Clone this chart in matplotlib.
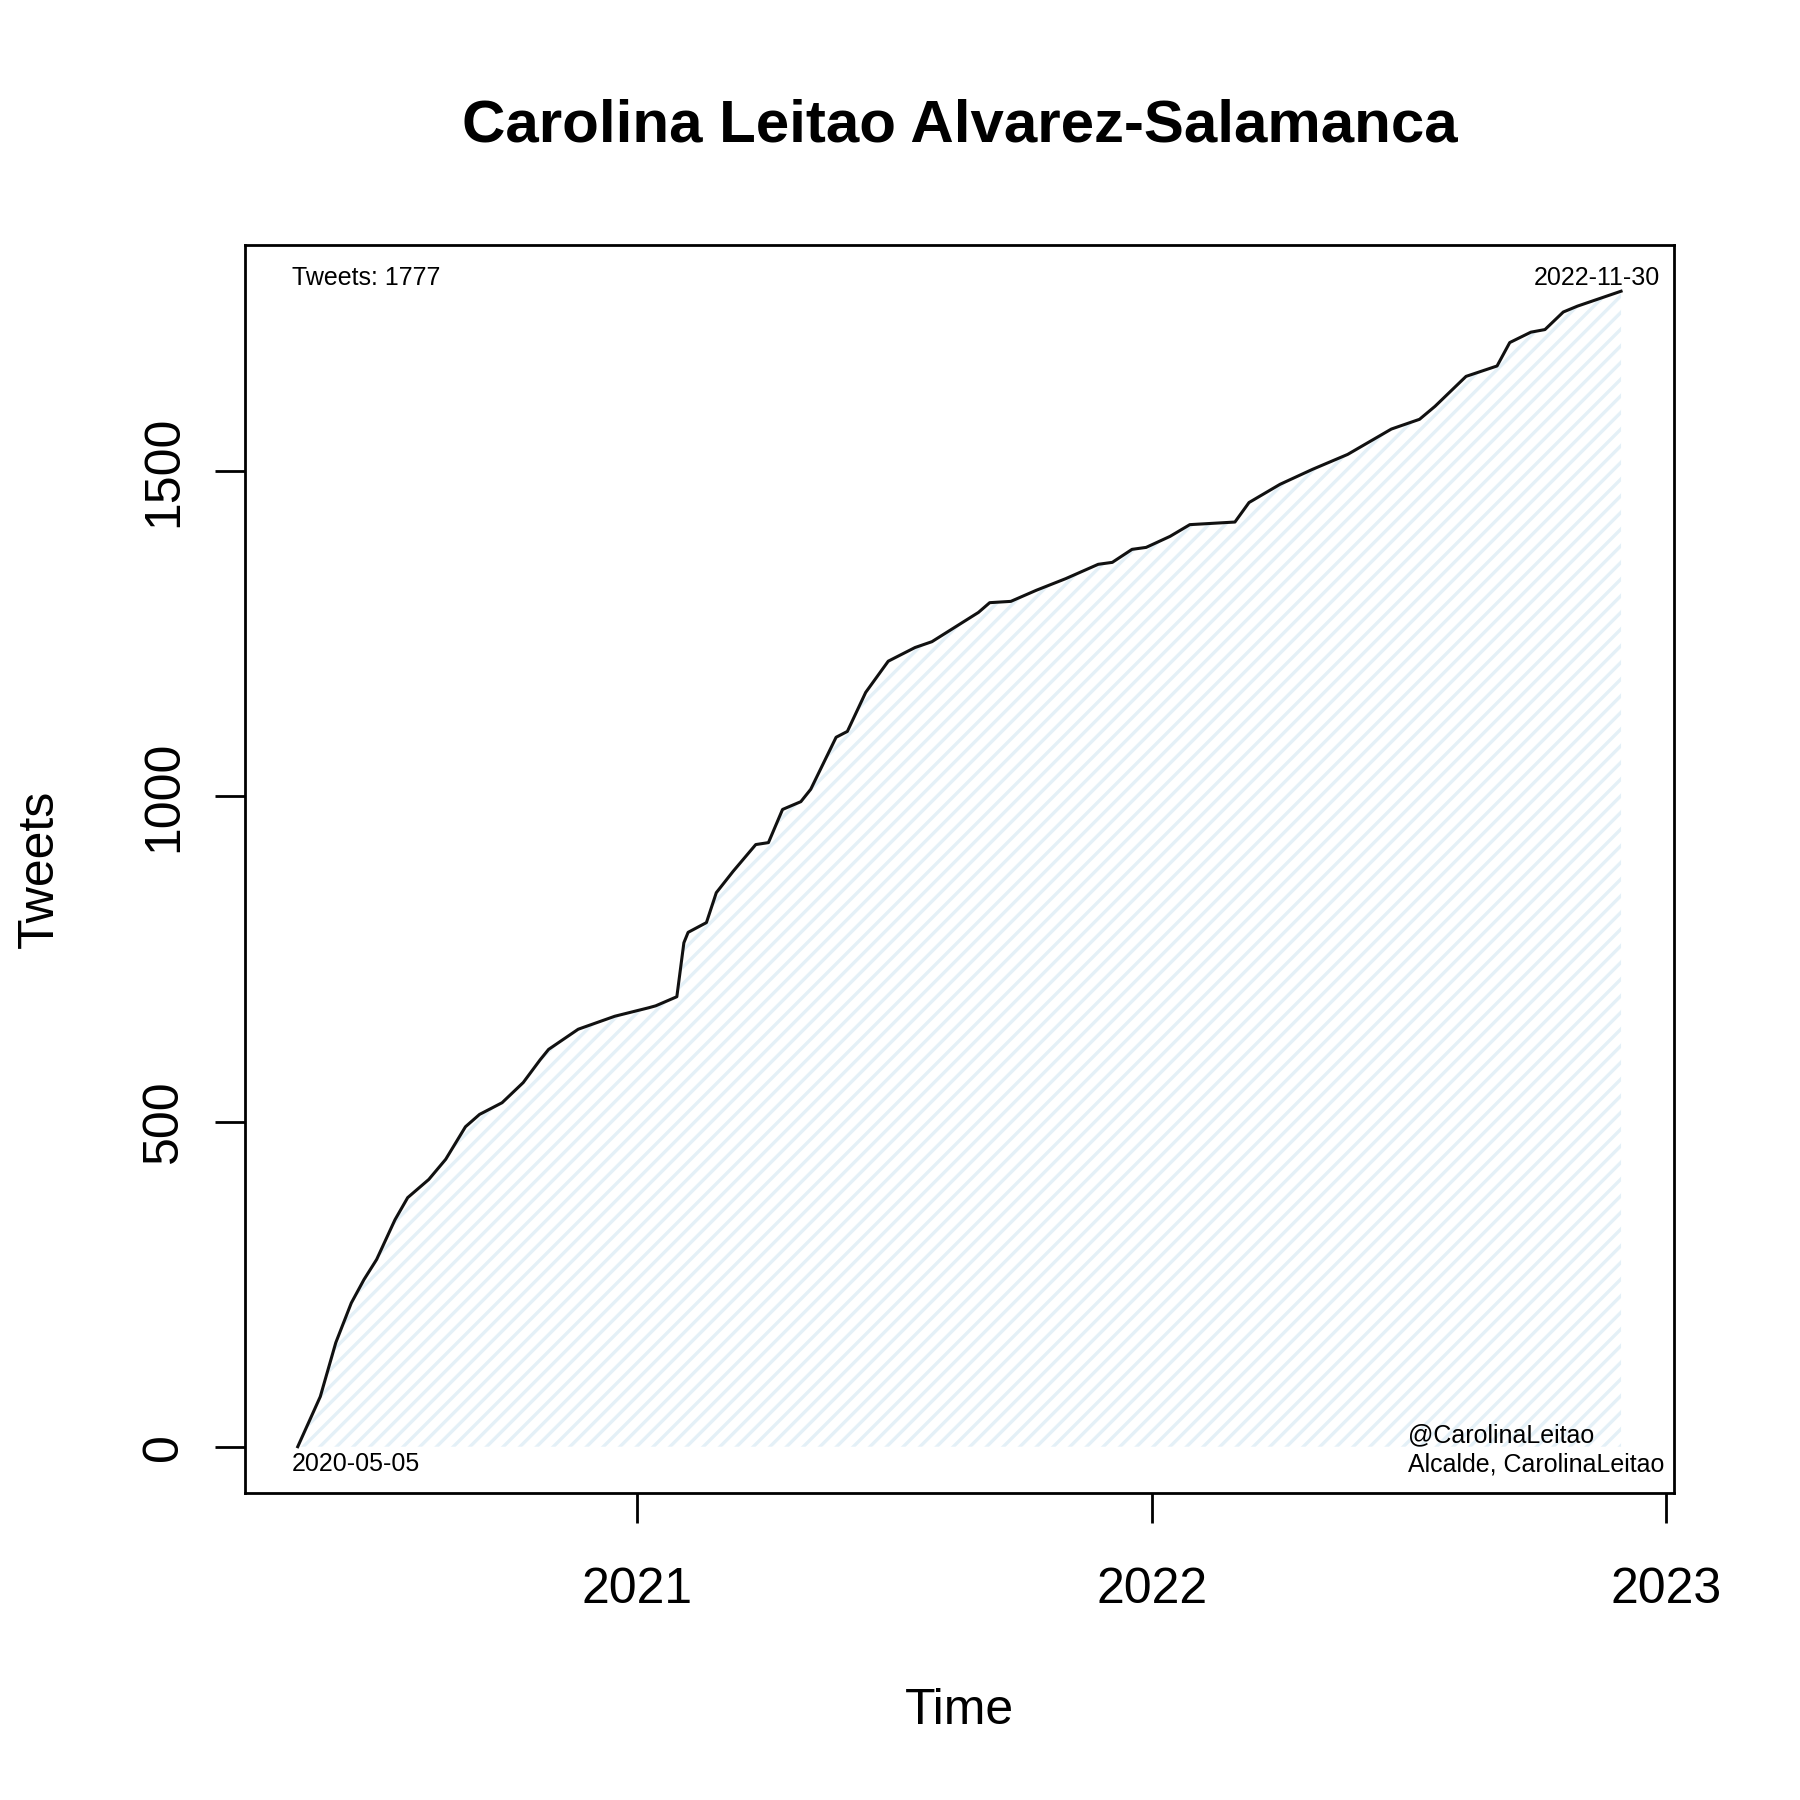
import pandas as pd
import matplotlib
matplotlib.use("Agg")
import matplotlib.pyplot as plt
import matplotlib.dates as mdates

plt.rcParams['font.family'] = ['Liberation Sans', 'DejaVu Sans']
plt.rcParams['hatch.linewidth'] = 1.2

# cumulative tweet count
dates = [
    "2020-05-05", "2020-05-21", "2020-06-01", "2020-06-12", "2020-06-21",
    "2020-06-30", "2020-07-13", "2020-07-22", "2020-08-06", "2020-08-18",
    "2020-09-01", "2020-09-11", "2020-09-27", "2020-10-12", "2020-10-24",
    "2020-10-30", "2020-11-20", "2020-12-16", "2021-01-09", "2021-01-14",
    "2021-01-29", "2021-02-03", "2021-02-06", "2021-02-19", "2021-02-26",
    "2021-03-10", "2021-03-26", "2021-04-04", "2021-04-14", "2021-04-27",
    "2021-05-04", "2021-05-22", "2021-05-30", "2021-06-12", "2021-06-28",
    "2021-07-17", "2021-07-29", "2021-08-31", "2021-09-08", "2021-09-23",
    "2021-10-11", "2021-11-01", "2021-11-24", "2021-12-04", "2021-12-18",
    "2021-12-28", "2022-01-14", "2022-01-28", "2022-03-01", "2022-03-11",
    "2022-04-02", "2022-04-25", "2022-05-20", "2022-06-20", "2022-07-10",
    "2022-07-21", "2022-08-12", "2022-09-03", "2022-09-12", "2022-09-27",
    "2022-10-07", "2022-10-20", "2022-10-30", "2022-11-30",
]
tweets = [
    0, 77, 160, 221, 257,
    288, 349, 383, 411, 442,
    492, 511, 529, 560, 595,
    611, 642, 662, 675, 678,
    692, 775, 791, 806, 852,
    885, 926, 929, 980, 992,
    1011, 1091, 1100, 1160, 1208,
    1229, 1238, 1283, 1298, 1300,
    1317, 1335, 1357, 1360, 1380,
    1383, 1400, 1418, 1422, 1452,
    1480, 1503, 1526, 1565, 1580,
    1600, 1646, 1662, 1698, 1714,
    1718, 1745, 1754, 1777,
]

title = "Carolina Leitao Alvarez-Salamanca"
handle = "@CarolinaLeitao"
caption = "Alcalde, CarolinaLeitao"

x = pd.to_datetime(dates)

fig = plt.figure(figsize=(9, 9), dpi=200)
ax = fig.add_axes([0.136, 0.1706, 0.794, 0.6933])

ax.fill_between(x, 0, tweets, facecolor='none', edgecolor='#e4f0f7',
                hatch='////', linewidth=0)
ax.plot(x, tweets, color='#111111', linewidth=1.1)

ax.margins(x=0.04, y=0.04)

ax.xaxis.set_major_locator(mdates.YearLocator())
ax.xaxis.set_major_formatter(mdates.DateFormatter('%Y'))
ax.set_yticks([0, 500, 1000, 1500])
ax.tick_params(axis='both', direction='out', length=10.8, width=1.0,
               labelsize=18, color='black')
ax.tick_params(axis='x', pad=16)
ax.tick_params(axis='y', pad=10)
for lab in ax.get_yticklabels():
    lab.set_rotation(90)
    lab.set_va('center')

for sp in ax.spines.values():
    sp.set_linewidth(1.0)
    sp.set_color('black')

ax.set_xlabel("Time", fontsize=18, labelpad=27)
ax.set_ylabel("Tweets", fontsize=18, labelpad=28)
# title centred over the plot box, as in base R graphics
fig.text(0.136 + 0.794 / 2, 0.930, title, fontsize=21.6, fontweight='bold',
         ha='center', va='center')

ax.text(0.033, 0.9736, f"Tweets: {tweets[-1]}", transform=ax.transAxes,
        fontsize=9, ha='left', va='center')
ax.text(0.990, 0.9736, dates[-1], transform=ax.transAxes,
        fontsize=9, ha='right', va='center')
ax.text(0.033, 0.023, dates[0], transform=ax.transAxes,
        fontsize=9, ha='left', va='center')
ax.text(0.814, 0.0465, handle, transform=ax.transAxes,
        fontsize=9, ha='left', va='center')
ax.text(0.814, 0.0224, caption, transform=ax.transAxes,
        fontsize=9, ha='left', va='center')

fig.savefig("out.png", dpi=200, facecolor='white')
